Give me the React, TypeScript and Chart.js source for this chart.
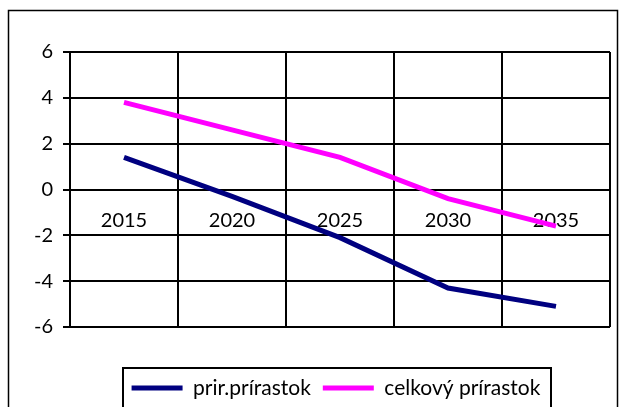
import React, { useEffect, useRef } from "react";
import { Chart, registerables } from "chart.js";

Chart.register(...registerables);

const categories = ["2015", "2020", "2025", "2030", "2035"];
const prirPrirastok = [1.4, -0.3, -2.1, -4.3, -5.1];
const celkovyPrirastok = [3.8, 2.6, 1.4, -0.4, -1.6];
const seriesNames = ["prir.prírastok", "celkový prírastok"];
const seriesColors = ["#000080", "#FF00FF"];
const yMin = -6;
const yMax = 6;
const yStep = 2;

const FONT = "Lato, 'Open Sans', sans-serif";
const LEGEND_CENTER_X = 336;
const LEGEND_CENTER_Y = 388;

const framePlugin = {
  id: "frame",
  afterLayout(chart: any) {
    const lg = chart.legend;
    if (!lg) return;
    const pad = lg.options.labels.padding;
    const fs = lg.options.labels.font.size;
    const curY = lg.top + pad + fs / 2;
    const dy = LEGEND_CENTER_Y - curY;
    const dx = LEGEND_CENTER_X - (lg.left + lg.right) / 2;
    lg.top += dy;
    lg.bottom += dy;
    lg.left += dx;
    lg.right += dx;
  },
  afterDraw(chart: any) {
    const ctx = chart.ctx;
    ctx.save();
    ctx.strokeStyle = "#000";
    ctx.lineWidth = 1.5;
    ctx.strokeRect(8.5, 10.5, 609, 500);
    const lg = chart.legend;
    if (lg && lg.lineWidths) {
      const pad = lg.options.labels.padding;
      const lw = lg.lineWidths[0] - pad;
      const cx = (lg.left + lg.right) / 2;
      const left = Math.round(cx - lw / 2 - 9);
      const right = Math.round(cx + lw / 2 + 11);
      ctx.lineWidth = 2;
      ctx.strokeRect(left, 368, right - left, 200);
    }
    ctx.restore();
  },
};

export default function App() {
  const ref = useRef<HTMLCanvasElement | null>(null);
  useEffect(() => {
    if (!ref.current) return;
    const chart = new Chart(ref.current, {
      type: "line",
      data: {
        labels: categories,
        datasets: [
          {
            label: seriesNames[0],
            data: prirPrirastok,
            borderColor: seriesColors[0],
            backgroundColor: seriesColors[0],
            borderWidth: 5,
            pointRadius: 0,
            tension: 0,
          },
          {
            label: seriesNames[1],
            data: celkovyPrirastok,
            borderColor: seriesColors[1],
            backgroundColor: seriesColors[1],
            borderWidth: 5,
            pointRadius: 0,
            tension: 0,
          },
        ],
      },
      options: {
        responsive: false,
        animation: false,
        layout: { padding: { left: 8, right: 9, top: 52, bottom: 37 } },
        plugins: {
          tooltip: { enabled: false },
          legend: {
            position: "bottom",
            labels: {
              boxWidth: 51,
              boxHeight: 5,
              padding: 12,
              color: "#000",
              font: { family: FONT, size: 21 },
              generateLabels: (c: any) =>
                c.data.datasets.map((d: any, i: number) => ({
                  text: d.label,
                  fillStyle: d.borderColor,
                  strokeStyle: d.borderColor,
                  lineWidth: 0,
                  hidden: false,
                  datasetIndex: i,
                  fontColor: "#000",
                })),
            },
          },
        },
        scales: {
          x: {
            type: "category",
            position: { y: 0 } as any,
            offset: true,
            grid: {
              offset: true,
              color: "#000",
              lineWidth: 2,
              drawTicks: false,
            },
            border: { display: true, color: "#000", width: 2 },
            ticks: {
              color: "#000",
              padding: 19,
              maxRotation: 0,
              font: { family: FONT, size: 20 },
            },
          },
          y: {
            min: yMin,
            max: yMax,
            afterFit: (s: any) => {
              s.width = 62;
            },
            grid: { color: "#000", lineWidth: 2, tickLength: 7 },
            border: { display: true, color: "#000", width: 2 },
            ticks: {
              stepSize: yStep,
              color: "#000",
              padding: 10,
              font: { family: FONT, size: 20 },
            },
          },
        },
      },
      plugins: [framePlugin],
    });
    return () => chart.destroy();
  }, []);
  return (
    <div style={{ position: "absolute", left: 0, top: 0, width: 619, height: 407, background: "#fff" }}>
      <canvas ref={ref} width={619} height={407} />
    </div>
  );
}
